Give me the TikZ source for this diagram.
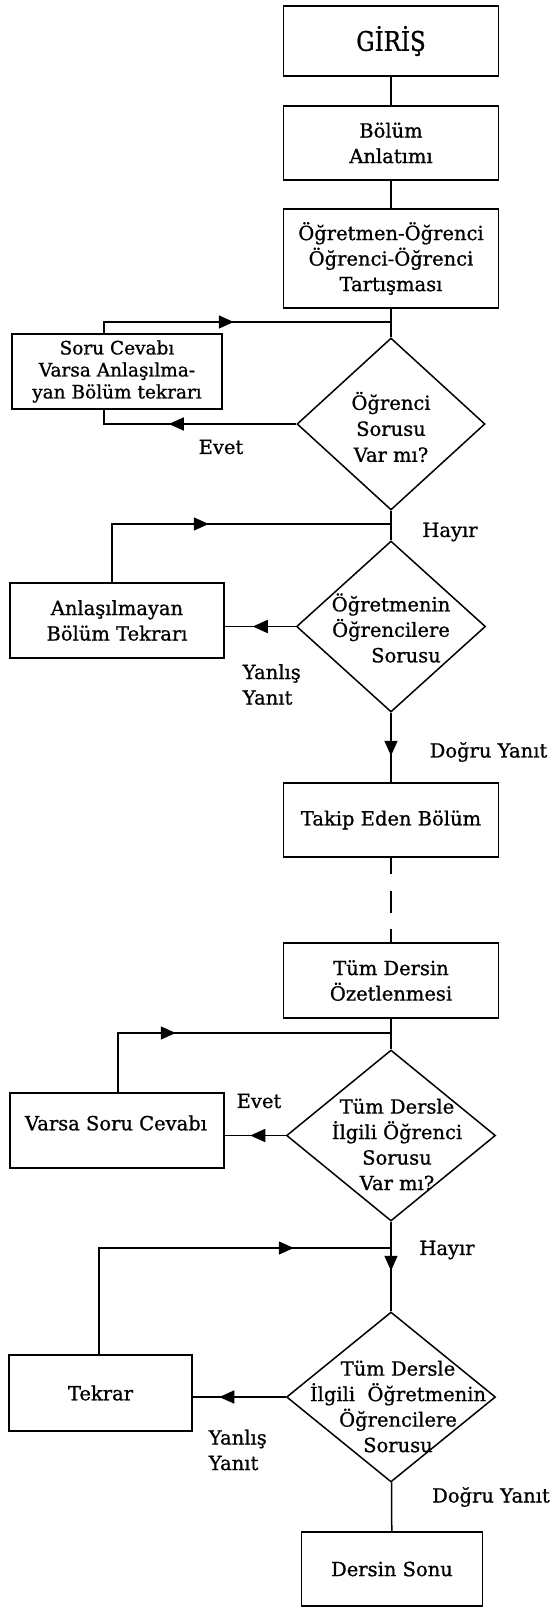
\documentclass[tikz,border=0pt]{standalone}
\usepackage{fontspec}
\setmainfont{DejaVu Serif}[FakeBold=0.9]
\usetikzlibrary{shapes.geometric,arrows.meta,decorations.markings}
\begin{document}
\begin{tikzpicture}[x=1pt,y=-1pt,
  line width=1.5pt,
  base/.style={font=\fontsize{19.5}{25.5}\selectfont},
  box/.style={base, draw, rectangle, inner sep=0pt, align=center},
  decision/.style={draw, diamond, inner sep=0pt},
  txt/.style={base, inner sep=0pt, align=center},
  lbl/.style={base, inner sep=0pt, align=left},
  midarrow/.style={postaction={decorate}, decoration={markings,
      mark=at position #1 with {\arrow{Triangle[length=15pt,width=13pt]}}}},
]
\useasboundingbox (0,0) rectangle (551,1608);

% --- opening steps ---
\node[box, font=\fontsize{27}{30}\selectfont, minimum width=215pt, minimum height=70pt] (giris) at (391,41) {\scalebox{0.85}[1]{GİRİŞ}};
\node[box, minimum width=215pt, minimum height=74pt] (bolum) at (391,143) {Bölüm\\Anlatımı};
\node[box, minimum width=215pt, minimum height=99pt] (tart) at (391,258.5) {Öğretmen-Öğrenci\\Öğrenci-Öğrenci\\Tartışması};
\draw (giris) -- (bolum);
\draw (bolum) -- (tart);

% --- first decision: student question ---
\coordinate (j1) at (391,322);
\node[decision, minimum width=188pt, minimum height=172pt] (d1) at (391,424) {};
\node[txt, font=\fontsize{19.5}{26}\selectfont] (d1t) at (391,427) {Öğrenci\\Sorusu\\Var mı?};
\node[box, font=\fontsize{18.5}{22}\selectfont, minimum width=210pt, minimum height=75pt] (soru) at (117,371.5) {Soru Cevabı\\Varsa Anlaşılma-\\yan Bölüm tekrarı};
\coordinate (c1a) at (104,322);
\coordinate (c1b) at (104,424);
\draw (tart) -- (d1);
\draw[midarrow=141pt] (c1a |- soru.north) -- (c1a) -- (j1);
\draw[midarrow=127.5pt] (d1.west) -- (c1b) -- (c1b |- soru.south);
\node[lbl] (evet1) at (221,447) {Evet};
\node[lbl] (hayir1) at (450,532) {Hayır};

% --- second decision: teacher question ---
\coordinate (j2) at (391,524);
\node[decision, minimum width=189pt, minimum height=171pt] (d2) at (391,626.5) {};
\node[txt] (d2t) at (391,628) {Öğretmenin\\Öğrencilere\\\hspace*{30pt}Sorusu};
\node[box, minimum width=214pt, minimum height=75pt] (anl) at (117,620.5) {Anlaşılmayan\\Bölüm Tekrarı};
\coordinate (c2) at (112,524);
\draw (d1) -- (d2);
\draw[midarrow=155pt] (c2 |- anl.north) -- (c2) -- (j2);
\draw[midarrow=43pt] (d2.west) -- (d2.west -| anl.east);
\node[lbl, anchor=west] (yanlis1) at (242,684.5) {Yanlış\\Yanıt};

% --- following section ---
\node[box, minimum width=215pt, minimum height=74pt] (takip) at (391,820) {Takip Eden Bölüm};
\draw[midarrow=43pt] (d2) -- (takip);
\node[lbl] (dogru1) at (488.5,752) {Doğru Yanıt};
\node[box, minimum width=215pt, minimum height=75pt] (tum) at (391,980.5) {Tüm Dersin\\Özetlenmesi};
\draw[dash pattern=on 16pt off 17pt on 22pt off 16pt on 15pt off 5pt] (takip) -- (tum);

% --- third decision: questions on the whole lesson ---
\coordinate (j3) at (391,1033);
\node[decision, minimum width=209pt, minimum height=171pt] (d3) at (391,1135.5) {};
\node[txt] (d3t) at (397,1144.5) {Tüm Dersle\\İlgili Öğrenci\\Sorusu\\Var mı?};
\node[box, minimum width=214pt, minimum height=75pt] (vsc) at (117,1130.5) {};
\node[txt] (vsct) at (116,1123) {Varsa Soru Cevabı};
\coordinate (c3) at (118,1033);
\draw (tum) -- (d3);
\draw[midarrow=117pt] (c3 |- vsc.north) -- (c3) -- (j3);
\draw[midarrow=35.5pt] (d3.west) -- (d3.west -| vsc.east);
\node[lbl] (evet2) at (259,1101) {Evet};
\node[lbl] (hayir2) at (447,1250) {Hayır};

% --- fourth decision: teacher questions on the whole lesson ---
\coordinate (j4) at (391,1248);
\node[decision, minimum width=209pt, minimum height=170pt] (d4) at (391,1397) {};
\node[txt] (d4t) at (398,1406.5) {Tüm Dersle\\İlgili\ \ Öğretmenin\\Öğrencilere\\Sorusu};
\node[box, minimum width=183pt, minimum height=76pt] (tekrar) at (100.5,1393) {Tekrar};
\coordinate (c4) at (99,1248);
\draw[midarrow=49pt] (d3) -- (d4);
\draw[midarrow=301pt] (c4 |- tekrar.north) -- (c4) -- (j4);
\draw[midarrow=66.5pt] (d4.west) -- (d4.west -| tekrar.east);
\node[lbl, anchor=west] (yanlis2) at (208,1450) {Yanlış\\Yanıt};
\node[lbl] (dogru2) at (491,1497) {Doğru Yanıt};

% --- end ---
\node[box, minimum width=181pt, minimum height=74pt] (sonu) at (392,1569) {Dersin Sonu};
\draw (d4) -- (sonu);
\end{tikzpicture}
\end{document}
